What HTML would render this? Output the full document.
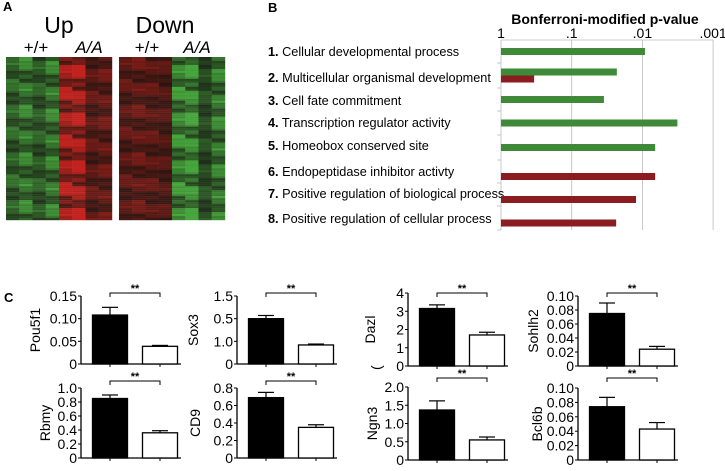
<!DOCTYPE html>
<html><head><meta charset="utf-8"><style>
body{margin:0;background:#fff;}
svg text{font-family:"Liberation Sans",Arial,sans-serif;}
</style></head><body>
<svg id="fig" width="725" height="466" viewBox="0 0 725 466" xmlns="http://www.w3.org/2000/svg">
<g>
<text x="3" y="11" font-size="13" font-weight="bold">A</text>
<text x="59" y="33" font-size="23" text-anchor="middle">Up</text>
<text x="165" y="33" font-size="23" text-anchor="middle">Down</text>
<text x="36" y="53" font-size="17" text-anchor="middle">+/+</text>
<text x="89" y="53" font-size="17" font-style="italic" text-anchor="middle">A/A</text>
<text x="147" y="53" font-size="17" text-anchor="middle">+/+</text>
<text x="197" y="53" font-size="17" font-style="italic" text-anchor="middle">A/A</text>
<g id="heat"></g>
</g>
<g>
<text x="268" y="12" font-size="13" font-weight="bold">B</text>
<text x="605" y="24" font-size="14" font-weight="bold" text-anchor="middle">Bonferroni-modified p-value</text>
<g id="bchart"></g>
</g>
<g>
<text x="4" y="302" font-size="13" font-weight="bold">C</text>
<text x="373" y="370" font-size="14" transform="rotate(-90 377 366)">(</text>
<g id="cchart"></g>
</g>
</svg>
<script>
const NS='http://www.w3.org/2000/svg';
function mk(p,t,a){const e=document.createElementNS(NS,t);for(const k in a)e.setAttribute(k,a[k]);p.appendChild(e);return e;}

// ---- Heatmap data ----
const upColumns=[[-0.45],[-0.6],[-0.4],[-0.6],[0.75],[0.8],[0.35],[0.4]];
const downColumns=[[0.35],[0.4],[0.35],[0.3],[-0.7],[-0.8],[-0.3],[-0.6]];
const rowVariation=[0.2,-0.7,0.5,-0.3,0.0,0.6,-0.8,0.3,-0.5,0.4,-0.9,0.1,0.7,-0.6,0.2,-0.4,0.5,-0.7,0.0,0.3,-0.2,0.8,-0.5,0.1];
const heat=document.getElementById('heat');
function hcolor(v){v=Math.max(-1,Math.min(1,v));
 if(v>=0){return `rgb(${Math.round(25+170*v)},${Math.round(20+15*v)},${Math.round(15+15*v)})`;}
 return `rgb(${Math.round(25+45*-v)},${Math.round(30+135*-v)},${Math.round(20+40*-v)})`;}
function drawHeat(cols,x0,name){
 const w=106,top=57,h=163,n=cols.length,rows=82,cw=w/n,rh=h/rows;
 cols.forEach((c,ci)=>{for(let r=0;r<rows;r++){
  const v=c[0]*(1+0.75*rowVariation[(r*7+ci*5)%rowVariation.length]);
  const rc=mk(heat,'rect',{x:x0+ci*cw,y:top+r*rh,width:cw+0.2,height:rh+0.2,fill:hcolor(v)});
  
  
 }});
}
drawHeat(upColumns,6,'up-heatmap');
drawHeat(downColumns,119,'down-heatmap');

// ---- Panel B data ----
const goTerms=['Cellular developmental process','Multicellular organismal development','Cell fate commitment','Transcription regulator activity','Homeobox conserved site','Endopeptidase inhibitor activty','Positive regulation of biological process','Positive regulation of cellular process'];
const upPValues=[0.0092,0.023,0.035,0.0032,0.0066,null,null,null];
const downPValues=[null,0.34,null,null,null,0.0066,0.0123,0.0235];
const bTicks=[1,0.1,0.01,0.001];
const bTickLabels=['1','.1','.01','.001'];
const B=document.getElementById('bchart');
const bx0=501,decade=70.7,btop=40,bbot=230;
const xs=p=>bx0+(-Math.log10(p))*decade;
bTicks.forEach((t,i)=>{
 if(i>0){const g=mk(B,'line',{x1:xs(t),x2:xs(t),y1:btop,y2:bbot,stroke:'#bbb','stroke-width':0.8});}
 const tx=mk(B,'text',{x:xs(t),y:btop-2,'font-size':14,'text-anchor':'middle'});tx.textContent=bTickLabels[i];
 
});
mk(B,'line',{x1:bx0,x2:xs(0.001),y1:btop,y2:btop,stroke:'#bbb','stroke-width':0.8});
mk(B,'line',{x1:bx0,x2:bx0,y1:btop,y2:bbot,stroke:'#bbb','stroke-width':0.8});
const rowTops=[40,63,88,111,135,160,183,206,230];
const labelY=[56,82,105,127,150,176,198,223];
for(let i=0;i<goTerms.length;i++){
 mk(B,'line',{x1:bx0-4,x2:bx0,y1:rowTops[i+1],y2:rowTops[i+1],stroke:'#bbb','stroke-width':0.8});
 const t=mk(B,'text',{x:268,y:labelY[i],'font-size':12.7});
 const b=mk(t,'tspan',{'font-weight':'bold'});b.textContent=(i+1)+'.';
 const r=mk(t,'tspan',{});r.textContent=' '+goTerms[i];
 
 const c=(rowTops[i]+rowTops[i+1])/2;
 const both=upPValues[i]!=null&&downPValues[i]!=null;
 if(upPValues[i]!=null){const y=both?c-7:c-3.5;const r1=mk(B,'rect',{x:bx0,y:y,width:xs(upPValues[i])-bx0,height:7,fill:'#3e8a38'});
  }
 if(downPValues[i]!=null){const y=both?c:c-3.5+(i>=5?5:0);const r2=mk(B,'rect',{x:bx0,y:y,width:xs(downPValues[i])-bx0,height:7,fill:'#8b1c1f'});
  }
}

// ---- Panel C data ----
const genes=['Pou5f1','Sox3','Dazl','Sohlh2','Rbmy','CD9','Ngn3','Bcl6b'];
const wtMeans=[0.108,1.0,3.15,0.075,0.85,0.69,1.37,0.074];
const wtErr=[0.017,0.07,0.2,0.015,0.05,0.06,0.25,0.013];
const aaMeans=[0.039,0.42,1.7,0.024,0.36,0.35,0.55,0.043];
const aaErr=[0.002,0.02,0.15,0.004,0.03,0.03,0.08,0.009];
const yMaxs=[0.15,1.5,4,0.10,1.0,0.8,2.0,0.10];
const yTickSets=[['0','0.05','0.10','0.15'],['0','1.0','0.5','1.5'],['0','1','2','3','4'],['0','0.02','0.04','0.06','0.08','0.10'],['0','0.2','0.4','0.6','0.8','1.0'],['0','0.2','0.4','0.6','0.8'],['0','0.5','1.0','1.5','2.0'],['0','0.02','0.04','0.06','0.08','0.10']];
const layout=[ // axisX, top, bottom, bracketY, titleOffset
 [81,296,364,293,46],[237,296,364,293,44],[408,293,366,293,38],[578,296,366,293,45],
 [81,388,458,381,36],[237,388,458,381,42],[408,387,460,378,36],[578,388,460,378,41]];
const C=document.getElementById('cchart');
genes.forEach((g,i)=>{
 const [ax,top,bot,by,to]=layout[i];const w=100;
 const ys=v=>bot-(v/yMaxs[i])*(bot-top);
 const G=mk(C,'g',{});
 mk(G,'line',{x1:ax,x2:ax,y1:top,y2:bot,stroke:'#000','stroke-width':1.3});
 mk(G,'line',{x1:ax,x2:ax+w,y1:bot,y2:bot,stroke:'#000','stroke-width':1.3});
 const tks=yTickSets[i];const n=tks.length-1;
 tks.forEach((t,k)=>{const y=bot-k*(bot-top)/n;
  mk(G,'line',{x1:ax-3,x2:ax,y1:y,y2:y,stroke:'#000','stroke-width':1});
  const tx=mk(G,'text',{x:ax-4,y:y+5,'font-size':14,'text-anchor':'end'});tx.textContent=t;
  });
 const tl=mk(G,'text',{x:0,y:0,'font-size':14,'text-anchor':'middle',transform:`translate(${ax-to+5},${(top+bot)/2}) rotate(-90)`});tl.textContent=g;
 
 const bw=35,c1=ax+29,c2=ax+79;
 [[c1,wtMeans[i],wtErr[i],'#000','bar-wt'],[c2,aaMeans[i],aaErr[i],'#fff','bar-aa']].forEach(([cx,m,e,f,nm])=>{
  mk(G,'line',{x1:cx,x2:cx,y1:ys(m),y2:ys(m+e),stroke:'#000','stroke-width':1.2});
  mk(G,'line',{x1:cx-8,x2:cx+8,y1:ys(m+e),y2:ys(m+e),stroke:'#000','stroke-width':1.2});
  const r=mk(G,'rect',{x:cx-bw/2,y:ys(m),width:bw,height:bot-ys(m),fill:f,stroke:'#000','stroke-width':1.3});
  
  mk(G,'line',{x1:cx,x2:cx,y1:bot,y2:bot+3,stroke:'#000','stroke-width':1});
 });
 mk(G,'path',{d:`M${c1},${by+4}V${by}H${c2}V${by+4}`,fill:'none',stroke:'#000','stroke-width':1});
 const st=mk(G,'text',{x:(c1+c2)/2,y:by-1,'font-size':11,'text-anchor':'middle','font-weight':'bold'});st.textContent='**';
 
});
</script>
</body></html>
